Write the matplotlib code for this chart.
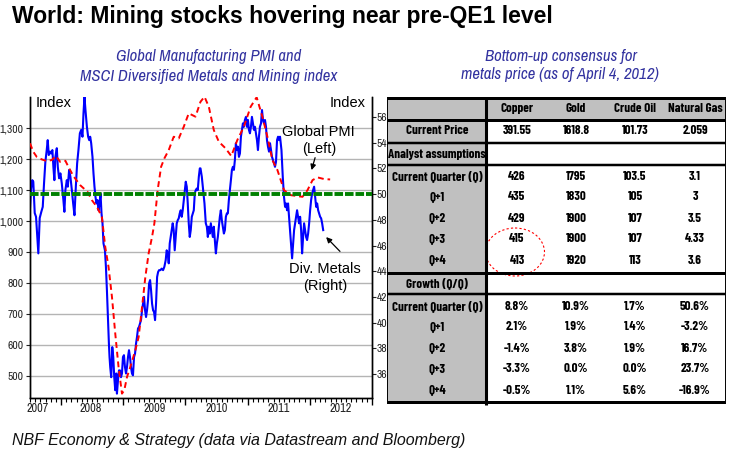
import matplotlib
matplotlib.use("Agg")
import matplotlib.pyplot as plt
from matplotlib import font_manager as fm
from matplotlib.patches import Ellipse, Rectangle
from matplotlib.ticker import FuncFormatter, MultipleLocator

# MSCI Diversified Metals & Mining index (left axis), (decimal year, level)
metals = [
    (2007.500, 1041), (2007.516, 1100), (2007.537, 1132), (2007.553, 1127), (2007.576, 1026),
    (2007.597, 1014), (2007.618, 949), (2007.634, 896), (2007.656, 1010), (2007.682, 1030),
    (2007.705, 1046), (2007.726, 1123), (2007.747, 1191), (2007.769, 1229), (2007.785, 1261),
    (2007.802, 1213), (2007.823, 1224), (2007.839, 1218), (2007.860, 1229), (2007.876, 1175),
    (2007.892, 1132), (2007.908, 1207), (2007.931, 1235), (2007.947, 1175), (2007.968, 1138),
    (2007.989, 1154), (2008.011, 1122), (2008.037, 1068), (2008.053, 1030), (2008.069, 1100),
    (2008.092, 1132), (2008.108, 1111), (2008.129, 1165), (2008.150, 1143), (2008.173, 1100),
    (2008.194, 1057), (2008.215, 1019), (2008.237, 1111), (2008.258, 1186), (2008.279, 1229),
    (2008.302, 1283), (2008.323, 1294), (2008.344, 1272), (2008.360, 1347), (2008.376, 1401),
    (2008.392, 1358), (2008.415, 1304), (2008.435, 1272), (2008.452, 1261), (2008.468, 1272),
    (2008.484, 1251), (2008.505, 1207), (2008.521, 1154), (2008.537, 1111), (2008.553, 1078),
    (2008.569, 1057), (2008.585, 1068), (2008.602, 1035), (2008.618, 1057), (2008.634, 1089),
    (2008.650, 1025), (2008.666, 993), (2008.682, 928), (2008.705, 906), (2008.721, 853),
    (2008.737, 777), (2008.753, 691), (2008.769, 605), (2008.779, 562), (2008.790, 530),
    (2008.806, 497), (2008.823, 594), (2008.839, 562), (2008.855, 497), (2008.871, 455),
    (2008.887, 509), (2008.898, 444), (2008.915, 487), (2008.931, 519), (2008.947, 519),
    (2008.963, 497), (2008.979, 509), (2008.995, 562), (2009.011, 568), (2009.027, 530),
    (2009.044, 509), (2009.060, 530), (2009.076, 562), (2009.092, 584), (2009.108, 562),
    (2009.124, 530), (2009.140, 509), (2009.156, 503), (2009.173, 562), (2009.189, 573),
    (2009.205, 605), (2009.221, 627), (2009.237, 654), (2009.253, 659), (2009.269, 670),
    (2009.285, 681), (2009.302, 713), (2009.318, 734), (2009.334, 756), (2009.350, 713),
    (2009.366, 691), (2009.382, 713), (2009.398, 745), (2009.415, 799), (2009.431, 810),
    (2009.447, 777), (2009.463, 734), (2009.479, 713), (2009.495, 707), (2009.511, 681),
    (2009.527, 734), (2009.544, 820), (2009.560, 836), (2009.576, 842), (2009.597, 842),
    (2009.618, 847), (2009.640, 842), (2009.661, 853), (2009.682, 874), (2009.698, 906),
    (2009.715, 896), (2009.731, 864), (2009.747, 928), (2009.763, 949), (2009.779, 971),
    (2009.795, 993), (2009.811, 971), (2009.827, 906), (2009.844, 949), (2009.860, 993),
    (2009.876, 1003), (2009.892, 1009), (2009.908, 1025), (2009.924, 1035), (2009.940, 1014),
    (2009.956, 1035), (2009.973, 1068), (2009.989, 1100), (2010.005, 1127), (2010.021, 1111),
    (2010.037, 1057), (2010.053, 993), (2010.069, 949), (2010.085, 971), (2010.102, 1014),
    (2010.118, 1025), (2010.134, 1035), (2010.150, 1089), (2010.166, 1100), (2010.182, 1105),
    (2010.198, 1100), (2010.215, 1143), (2010.231, 1170), (2010.242, 1170), (2010.263, 1143),
    (2010.285, 1100), (2010.306, 1057), (2010.327, 993), (2010.344, 982), (2010.360, 949),
    (2010.376, 982), (2010.392, 960), (2010.408, 993), (2010.424, 971), (2010.440, 949),
    (2010.456, 982), (2010.473, 939), (2010.489, 896), (2010.505, 928), (2010.521, 949),
    (2010.537, 982), (2010.553, 1014), (2010.569, 1035), (2010.585, 1003), (2010.602, 982),
    (2010.618, 960), (2010.634, 971), (2010.650, 1014), (2010.666, 1025), (2010.682, 1025),
    (2010.698, 1068), (2010.715, 1100), (2010.731, 1132), (2010.747, 1165), (2010.763, 1175),
    (2010.779, 1165), (2010.795, 1197), (2010.811, 1251), (2010.827, 1229), (2010.844, 1240),
    (2010.860, 1207), (2010.876, 1218), (2010.892, 1272), (2010.908, 1294), (2010.924, 1315),
    (2010.940, 1304), (2010.956, 1326), (2010.973, 1336), (2010.989, 1304), (2011.005, 1326),
    (2011.021, 1294), (2011.037, 1283), (2011.053, 1304), (2011.069, 1336), (2011.085, 1315),
    (2011.102, 1294), (2011.118, 1304), (2011.134, 1283), (2011.150, 1261), (2011.166, 1229),
    (2011.182, 1272), (2011.198, 1304), (2011.215, 1315), (2011.231, 1358), (2011.247, 1326),
    (2011.263, 1315), (2011.279, 1326), (2011.295, 1304), (2011.311, 1261), (2011.327, 1240),
    (2011.344, 1224), (2011.360, 1251), (2011.376, 1229), (2011.392, 1207), (2011.408, 1197),
    (2011.424, 1186), (2011.440, 1175), (2011.456, 1191), (2011.473, 1261), (2011.489, 1272),
    (2011.505, 1261), (2011.521, 1272), (2011.544, 1229), (2011.565, 1143), (2011.585, 1078),
    (2011.602, 1046), (2011.618, 1057), (2011.634, 1035), (2011.650, 1057), (2011.666, 1014),
    (2011.682, 971), (2011.698, 928), (2011.715, 880), (2011.731, 928), (2011.747, 971),
    (2011.763, 993), (2011.779, 1014), (2011.795, 1035), (2011.811, 1014), (2011.827, 993),
    (2011.844, 1014), (2011.860, 971), (2011.876, 896), (2011.892, 949), (2011.908, 993),
    (2011.924, 971), (2011.940, 949), (2011.956, 939), (2011.973, 960), (2011.989, 993),
    (2012.005, 1035), (2012.021, 1068), (2012.037, 1089), (2012.053, 1100), (2012.069, 1111),
    (2012.085, 1078), (2012.102, 1046), (2012.118, 1057), (2012.134, 1035), (2012.150, 1025),
    (2012.166, 1014), (2012.182, 1009), (2012.198, 993), (2012.215, 971),
]

# Global manufacturing PMI (right axis), (decimal year, index)
pmi = [
    (2007.500, 53.95), (2007.553, 53.29), (2007.608, 52.90), (2007.689, 52.70), (2007.769, 52.57),
    (2007.850, 52.65), (2007.919, 52.96), (2007.984, 52.51), (2008.069, 52.59), (2008.118, 52.12),
    (2008.198, 51.40), (2008.306, 50.70), (2008.424, 50.18), (2008.495, 49.53), (2008.576, 49.01),
    (2008.656, 48.23), (2008.710, 45.90), (2008.763, 44.34), (2008.818, 42.01), (2008.871, 39.16),
    (2008.924, 36.56), (2008.979, 34.49), (2009.016, 34.75), (2009.060, 35.78), (2009.113, 36.56),
    (2009.194, 37.86), (2009.247, 38.89), (2009.302, 41.23), (2009.355, 43.56), (2009.408, 45.39),
    (2009.463, 46.68), (2009.500, 47.72), (2009.553, 50.31), (2009.608, 52.12), (2009.661, 52.78),
    (2009.731, 53.42), (2009.811, 54.46), (2009.892, 54.33), (2009.973, 55.24), (2010.053, 56.28),
    (2010.161, 56.02), (2010.242, 57.18), (2010.306, 57.57), (2010.376, 56.79), (2010.456, 54.98),
    (2010.537, 54.07), (2010.645, 53.56), (2010.737, 52.96), (2010.834, 54.20), (2010.940, 55.24),
    (2011.048, 56.79), (2011.145, 57.53), (2011.237, 56.02), (2011.318, 54.46), (2011.398, 52.65),
    (2011.479, 51.87), (2011.532, 51.09), (2011.585, 50.31), (2011.694, 49.92), (2011.882, 49.79),
    (2011.963, 50.31), (2012.044, 51.09), (2012.124, 51.30), (2012.231, 51.17), (2012.327, 51.14),
]

left_ticks = [500, 600, 700, 800, 900, 1000, 1100, 1200, 1300]
right_ticks = [36, 38, 40, 42, 44, 46, 48, 50, 52, 54, 56]
years = [2007, 2008, 2009, 2010, 2011, 2012]

# table data
columns = ["Copper", "Gold", "Crude Oil", "Natural Gas"]
current_price = ["391.55", "1618.8", "101.73", "2.059"]
quarters = ["Current Quarter (Q)", "Q+1", "Q+2", "Q+3", "Q+4"]
forecast = [
    ["426", "1795", "103.5", "3.1"],
    ["435", "1830", "105", "3"],
    ["429", "1900", "107", "3.5"],
    ["415", "1900", "107", "4.33"],
    ["413", "1920", "113", "3.6"],
]
growth = [
    ["8.8%", "10.9%", "1.7%", "50.6%"],
    ["2.1%", "1.9%", "1.4%", "-3.2%"],
    ["-1.4%", "3.8%", "1.9%", "16.7%"],
    ["-3.3%", "0.0%", "0.0%", "23.7%"],
    ["-0.5%", "1.1%", "5.6%", "-16.9%"],
]


def pick(cands, style="normal", bold=False):
    # first installed family that has the wanted style / weight
    for c in cands:
        for f in fm.fontManager.ttflist:
            try:
                w = int(f.weight)
            except (TypeError, ValueError):
                w = 700 if "bold" in str(f.weight) else 400
            if f.name == c and f.style == style and (w >= 600) == bold:
                return c
    return "DejaVu Sans"


narrow_list = ["Liberation Sans Narrow", "Arial Narrow", "Pragati Narrow", "Archivo Narrow",
               "PT Sans Narrow", "Roboto Condensed", "Fira Sans Condensed", "IBM Plex Sans Condensed",
               "Encode Sans Condensed", "Open Sans Condensed"]
table_list = ["Barlow Condensed", "Sofia Sans Condensed", "Roboto Condensed", "Archivo Narrow",
              "Pragati Narrow", "PT Sans Narrow"] + narrow_list
NARROW = [pick(narrow_list), "DejaVu Sans"]
NARROW_I = [pick(narrow_list, style="italic"), "DejaVu Sans"]
TABLE_B = [pick(table_list, bold=True), "DejaVu Sans"]
REG = ["Liberation Sans", "DejaVu Sans"]

W, H = 732, 455
fig = plt.figure(figsize=(W / 100, H / 100), dpi=100)
fig.patch.set_facecolor("white")
renderer = fig.canvas.get_renderer()


def fit_size(s, target_px, **kw):
    # font size giving the string the width it has in the reference
    t = fig.text(0, 0, s, fontsize=10, **kw)
    w = t.get_window_extent(renderer).width
    t.remove()
    return min(11.5, 10 * target_px / w)


ax = fig.add_axes([30 / W, 1 - 398 / H, 342 / W, 301 / H])
ax2 = ax.twinx()

mx, my = zip(*metals)
px, py = zip(*pmi)
ax.plot(mx, my, color="#0000ff", lw=1.5, zorder=3)
ax2.plot(px, py, color="#ff0000", lw=1.4, dashes=(3, 2), zorder=3)
ax2.axhline(50, color="#008000", lw=2.8, dashes=(2.2, 0.5), zorder=4)

ax.set_xlim(2007.5, 2013.0)
ax.set_ylim(430, 1400)
ax2.set_ylim(34.15, 57.55)

ax.set_yticks(left_ticks)
ax.yaxis.set_major_formatter(FuncFormatter(lambda v, p: f"{int(v):,}"))
ax.yaxis.grid(True, color="#b4b4b4", lw=1)
ax.set_axisbelow(True)
ax2.set_yticks(right_ticks)

ax.set_xticks(range(2008, 2014))
ax.xaxis.set_minor_locator(MultipleLocator(1 / 12))
ax.set_xticklabels([])
ax.tick_params(axis="x", which="major", length=5, direction="out", width=1)
ax.tick_params(axis="x", which="minor", length=3, direction="out", width=0.8)
ax.tick_params(axis="y", length=3, direction="out", labelsize=9, colors="#222222", pad=1.5)
ax2.tick_params(axis="y", length=3, direction="out", labelsize=9, colors="#222222", pad=0.5)
for t in ax.get_yticklabels() + ax2.get_yticklabels():
    t.set_family(NARROW)

for a in (ax, ax2):
    a.spines["top"].set_visible(False)
    for s in ("left", "right", "bottom"):
        a.spines[s].set_linewidth(1)
        a.spines[s].set_color("black")

label_pos = [2007.63, 2008.47, 2009.5, 2010.5, 2011.5, 2012.5]
for yr, xp in zip(years, label_pos):
    ax.text(xp, -0.035, str(yr), transform=ax.get_xaxis_transform(), ha="center", va="center",
            fontsize=9.5, family=NARROW, color="#222222")

ax.text(0.015, 0.98, "Index", transform=ax.transAxes, ha="left", va="center", fontsize=10.5, family=REG)
ax.text(0.98, 0.98, "Index", transform=ax.transAxes, ha="right", va="center", fontsize=10.5, family=REG)

ax2.text(2012.145, 54.16, "Global PMI\n(Left)", ha="center", va="center", fontsize=10.5, family=REG,
         linespacing=1.3)
ax2.annotate("", xy=(2012.016, 51.66), xytext=(2012.097, 53.04),
             arrowprops=dict(arrowstyle="-|>", color="black", lw=0.9, mutation_scale=8))
ax.text(2012.242, 819, "Div. Metals\n(Right)", ha="center", va="center", fontsize=10.5, family=REG,
        linespacing=1.3)
ax.annotate("", xy=(2012.231, 955), xytext=(2012.516, 896),
            arrowprops=dict(arrowstyle="-|>", color="black", lw=0.9, mutation_scale=8))

# overlay in pixel coordinates for titles and table
ov = fig.add_axes([0, 0, 1, 1])
ov.set_xlim(0, W)
ov.set_ylim(H, 0)
ov.axis("off")
ov.patch.set_visible(False)

ov.text(12, 16, "World: Mining stocks hovering near pre-QE1 level", ha="left", va="center",
        fontsize=16.5, fontweight="bold", family=REG)
sub_color = "#3333a0"
skw = dict(ha="center", va="center", fontsize=12, style="italic", family=NARROW_I, color=sub_color)
ov.text(209, 57, "Global Manufacturing PMI and", **skw)
ov.text(209, 76, "MSCI Diversified Metals and Mining index", **skw)
ov.text(561, 56, "Bottom-up consensus for", **skw)
ov.text(560, 75, "metals price (as of April 4, 2012)", **skw)
ov.text(12, 441, "NBF Economy & Strategy (data via Datastream and Bloomberg)", ha="left", va="center",
        fontsize=11.5, style="italic", family=REG, color="#111111")

# table
xl, xs, xr = 387, 486, 725
top, bot = 97, 403
gray = "#c0c0c0"
ov.add_patch(Rectangle((xl, top), xs - xl, bot - top, facecolor=gray, edgecolor="none"))
ov.add_patch(Rectangle((xs, top), xr - xs, 22, facecolor=gray, edgecolor="none"))

col_x = [517, 576, 635, 695]
lab_x = 437
tsize = fit_size("Current Quarter (Q)", 90, family=TABLE_B, fontweight="bold")
tkw = dict(ha="center", va="center", fontsize=tsize, fontweight="bold", family=TABLE_B)

for cx, c in zip(col_x, columns):
    ov.text(cx, 108, c, **tkw)
ov.text(lab_x, 131, "Current Price", **tkw)
for cx, v in zip(col_x, current_price):
    ov.text(cx, 131, v, **tkw)
ov.text(lab_x, 154, "Analyst assumptions", **tkw)
for i, q in enumerate(quarters):
    yy = 176 + i * 21
    ov.text(lab_x, yy, q, **tkw)
    for cx, v in zip(col_x, forecast[i]):
        ov.text(cx, yy, v, **tkw)
ov.text(lab_x, 283, "Growth (Q/Q)", **tkw)
for i, q in enumerate(quarters):
    yy = 306 + i * 21
    ov.text(lab_x, yy, q, **tkw)
    for cx, v in zip(col_x, growth[i]):
        ov.text(cx, yy, v, **tkw)

for yy, th in [(98, 3), (119.5, 3), (142.5, 2.5), (164.5, 2.5), (272.5, 3), (293.5, 2.5), (402, 3)]:
    ov.plot([xl, xr], [yy, yy], color="black", lw=th * 0.72, solid_capstyle="butt")
ov.plot([xs, xs], [top, bot + 1.5], color="black", lw=2.2, solid_capstyle="butt")
ov.plot([xl, xl], [top, bot], color="black", lw=0.7)
ov.plot([xr, xr], [top, bot], color="black", lw=0.7)

ov.add_patch(Ellipse((515, 252), 59, 48, fill=False, edgecolor="#ff0000", lw=0.8, linestyle=(0, (2, 2))))

fig.savefig("out.png", dpi=100)
